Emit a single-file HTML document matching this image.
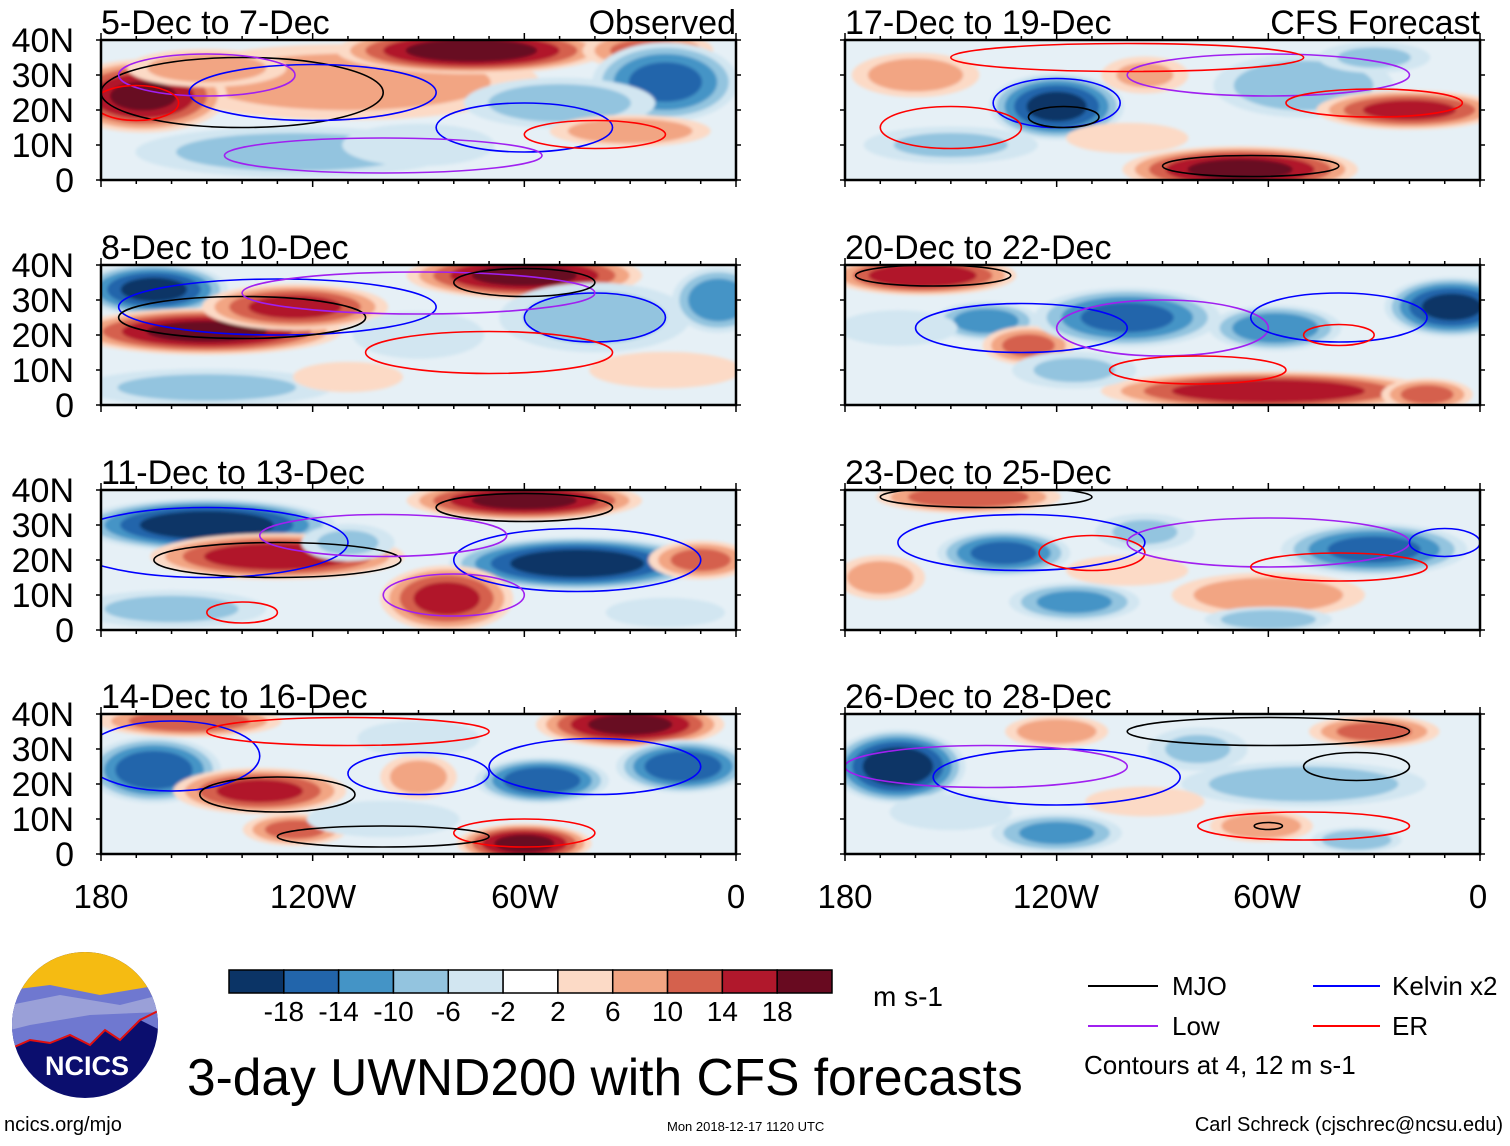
<!DOCTYPE html>
<html><head><meta charset="utf-8">
<style>
html,body{margin:0;padding:0;background:#fff;}
body{width:1510px;height:1141px;overflow:hidden;font-family:"Liberation Sans",sans-serif;}
svg text{font-family:"Liberation Sans",sans-serif;}
</style></head><body>
<svg id="chart" width="1510" height="1141" xmlns="http://www.w3.org/2000/svg">
<defs><filter id="soft" x="-20%" y="-20%" width="140%" height="140%"><feGaussianBlur stdDeviation="1.5"/></filter></defs>
<g id="panels"></g>
<g font-size="33" text-anchor="middle">
<text x="101" y="908">180</text><text x="313" y="908">120W</text><text x="525" y="908">60W</text><text x="736" y="908">0</text></g>
<g font-size="33" text-anchor="middle">
<text x="845" y="908">180</text><text x="1056" y="908">120W</text><text x="1267" y="908">60W</text><text x="1478" y="908">0</text></g>
<g id="colorbar"></g>
<text x="873" y="1006" font-size="28">m s-1</text>
<g font-size="26">
<line x1="1088" y1="986" x2="1158" y2="986" stroke="#000" stroke-width="2"/><text x="1172" y="995">MJO</text>
<line x1="1313" y1="986" x2="1380" y2="986" stroke="#0000ff" stroke-width="2"/><text x="1392" y="995">Kelvin x2</text>
<line x1="1088" y1="1026" x2="1158" y2="1026" stroke="#a020f0" stroke-width="2"/><text x="1172" y="1035">Low</text>
<line x1="1313" y1="1026" x2="1380" y2="1026" stroke="#ff0000" stroke-width="2"/><text x="1392" y="1035">ER</text>
<text x="1084" y="1074" font-size="26">Contours at 4, 12 m s-1</text>
</g>
<g>
<clipPath id="lc"><circle cx="85" cy="1025" r="73"/></clipPath>
<g clip-path="url(#lc)">
<rect x="10" y="950" width="150" height="150" fill="#0b0e6e"/>
<rect x="10" y="950" width="150" height="45" fill="#f5bb12"/>
<path d="M10 990 L50 985 L100 995 L160 985 L160 1030 L140 1020 L120 1040 L105 1030 L90 1045 L70 1035 L50 1043 L30 1040 L10 1048Z" fill="#6f78d0"/>
<path d="M10 1005 L60 995 L120 1005 L160 995 L160 1012 L90 1015 L30 1025 L10 1030Z" fill="#9aa0d8"/>
<path d="M12 1048 L30 1040 L50 1043 L70 1035 L90 1045 L105 1030 L120 1040 L140 1020 L160 1010" fill="none" stroke="#e01010" stroke-width="2"/>
</g>
<text x="87" y="1075" font-size="27" font-weight="bold" fill="#fff" text-anchor="middle">NCICS</text>
</g>
<text x="187" y="1095" font-size="51.5">3-day UWND200 with CFS forecasts</text>
<text x="4" y="1131" font-size="20">ncics.org/mjo</text>
<text x="667" y="1131" font-size="13">Mon 2018-12-17 1120 UTC</text>
<text x="1503" y="1131" font-size="20" text-anchor="end">Carl Schreck (cjschrec@ncsu.edu)</text>
</svg>
<script>
const levels = [-18,-14,-10,-6,-2,2,6,10,14,18];
const colors = ["#0b3466","#2265ab","#4494c6","#93c4df","#d2e6f1","#ffffff","#fcdac6","#f2a583","#d5614d","#b1182c","#680a20"];
const titles = ["5-Dec to 7-Dec","8-Dec to 10-Dec","11-Dec to 13-Dec","14-Dec to 16-Dec","17-Dec to 19-Dec","20-Dec to 22-Dec","23-Dec to 25-Dec","26-Dec to 28-Dec"];
const yTicks = [40,30,20,10,0];
const yTickLabels = ["40N","30N","20N","10N","0"];
// wind anomaly blobs per panel: [lonW, lat, rxDeg, ryDeg, value]
const blobs0 = [[110,28,60,12,9],[168,24,25,11,19],[75,37,40,7,21],[25,37,20,6,12],[20,28,22,12,-16],[125,8,50,8,-9],[50,22,30,8,-9],[30,14,25,5,10],[150,32,25,6,9],[90,10,25,7,-6]];
const blobs1 = [[165,33,22,8,-20],[150,21,40,7,20],[125,28,28,7,16],[60,37,35,7,20],[40,25,30,11,-9],[5,30,14,10,-14],[150,5,40,6,-8],[110,8,18,5,6],[90,20,22,8,-5],[20,10,25,6,6]];
const blobs2 = [[150,30,38,8,-22],[130,21,38,7,18],[60,37,35,6,20],[45,19,38,8,-22],[82,9,20,10,16],[160,6,30,6,-8],[10,20,16,6,12],[110,25,15,6,-7],[20,5,20,5,-5]];
const blobs3 = [[155,38,28,5,14],[165,24,20,10,-18],[135,18,26,7,16],[125,7,16,5,12],[30,37,28,7,20],[55,21,20,7,-18],[15,25,20,8,-18],[60,3,20,6,20],[90,22,12,7,9],[100,10,25,6,-6],[90,33,20,6,-6]];
const blobs4 = [[120,21,20,10,-20],[160,30,20,7,9],[50,27,28,10,-10],[20,20,28,6,16],[68,3,35,7,20],[95,30,14,6,7],[150,10,28,6,-7],[30,35,18,5,-7],[100,12,20,5,6]];
const blobs5 = [[158,37,28,6,18],[140,24,16,6,-13],[128,17,14,6,12],[100,25,28,9,-16],[58,22,20,7,-14],[8,28,20,9,-20],[60,4,50,6,18],[15,3,14,5,12],[115,10,20,6,-7],[165,22,20,6,-5]];
const blobs6 = [[145,38,28,5,14],[135,22,20,7,-16],[115,8,20,6,-12],[30,23,28,8,-16],[60,10,30,7,10],[60,3,20,4,-9],[95,28,16,6,-7],[170,15,14,7,9],[100,17,20,5,6]];
const blobs7 = [[165,25,20,11,-22],[120,35,16,5,10],[30,35,20,5,12],[50,20,38,7,-10],[120,6,20,6,-12],[62,8,16,5,10],[35,4,14,4,-10],[80,30,16,7,-7],[150,12,20,6,-6],[95,15,20,5,5]];
const blobs = [blobs0,blobs1,blobs2,blobs3,blobs4,blobs5,blobs6,blobs7];
// contours per panel: [lonW, lat, rxDeg, ryDeg, type]
const conts = [
 [[140,25,40,10,"k"],[120,25,35,8,"b"],[60,15,25,7,"b"],[40,13,20,4,"r"],[150,30,25,6,"p"],[100,7,45,5,"p"],[170,22,12,5,"r"]],
 [[130,28,45,8,"b"],[140,25,35,6,"k"],[40,25,20,7,"b"],[70,15,35,6,"r"],[90,32,50,6,"p"],[60,35,20,4,"k"]],
 [[150,25,40,10,"b"],[130,20,35,5,"k"],[45,20,35,9,"b"],[100,27,35,6,"p"],[60,35,25,4,"k"],[80,10,20,6,"p"],[140,5,10,3,"r"]],
 [[160,28,25,10,"b"],[130,17,22,5,"k"],[40,25,30,8,"b"],[90,23,20,6,"b"],[60,6,20,4,"r"],[100,5,30,3,"k"],[110,35,40,4,"r"]],
 [[120,22,18,7,"b"],[118,18,10,3,"k"],[60,30,40,6,"p"],[30,22,25,4,"r"],[150,15,20,6,"r"],[65,4,25,3,"k"],[100,35,50,4,"r"]],
 [[130,22,30,7,"b"],[90,22,30,8,"p"],[40,25,25,7,"b"],[80,10,25,4,"r"],[40,20,10,3,"r"],[155,37,22,3,"k"]],
 [[130,25,35,8,"b"],[110,22,15,5,"r"],[60,25,40,7,"p"],[140,38,30,3,"k"],[40,18,25,4,"r"],[10,25,10,4,"b"]],
 [[120,22,35,8,"b"],[140,25,40,6,"p"],[35,25,15,4,"k"],[50,8,30,4,"r"],[60,35,40,4,"k"],[60,8,4,1,"k"]]
];
const lineCols = {k:"#000000",b:"#0000ff",r:"#ff0000",p:"#a020f0"};
const NS="http://www.w3.org/2000/svg";
const geom = {lefts:[101,845], w:635, tops:[40,265,490,714], h:140};
function colorFor(v){let i=0;while(i<levels.length&&v>levels[i])i++;return colors[i];}
function mk(tag,attrs,parent){const e=document.createElementNS(NS,tag);for(const k in attrs)e.setAttribute(k,attrs[k]);parent.appendChild(e);return e;}
const root=document.getElementById('panels');
titles.forEach((t,p)=>{
  const col=p<4?0:1, row=p%4;
  const x0=geom.lefts[col], y0=geom.tops[row], w=geom.w, h=geom.h;
  const xs=lon=>x0+(180-lon)/180*w;
  const ys=lat=>y0+h-lat/40*h;
  const g=mk('g',{},root);
  
  
  const cid='clip'+p;
  const cp=mk('clipPath',{id:cid},g);mk('rect',{x:x0,y:y0,width:w,height:h},cp);
  const inner=mk('g',{'clip-path':'url(#'+cid+')'},g);
  mk('rect',{x:x0,y:y0,width:w,height:h,fill:'#e6f0f6'},inner);
  const fg=mk('g',{filter:'url(#soft)'},inner);
  blobs[p].forEach(b=>{
    const [lon,lat,rx,ry,v]=b;const av=Math.abs(v),s=Math.sign(v);
    const th=[2,6,10,14,18].filter(t=>t<av);
    th.forEach(t=>{
      const f=Math.sqrt(1-t/(av+2));
      const e=mk('ellipse',{cx:xs(lon),cy:ys(lat),rx:rx/180*w*f,ry:ry/40*h*f,fill:colorFor(s*(t+1))},fg);
      
      
    });
  });
  conts[p].forEach(c=>{
    const [lon,lat,rx,ry,ty]=c;
    const e=mk('ellipse',{cx:xs(lon),cy:ys(lat),rx:rx/180*w,ry:ry/40*h,fill:'none',stroke:lineCols[ty],'stroke-width':1.6},inner);
    
    
  });
  const fr=mk('rect',{x:x0,y:y0,width:w,height:h,fill:'none',stroke:'#000','stroke-width':2.5},g);
  
  
  for(let lon=180;lon>=0;lon-=10){const len=(lon%60===0)?7:4;
    mk('line',{x1:xs(lon),y1:y0,x2:xs(lon),y2:y0-len,stroke:'#000','stroke-width':1.5},g);
    mk('line',{x1:xs(lon),y1:y0+h,x2:xs(lon),y2:y0+h+len,stroke:'#000','stroke-width':1.5},g);}
  for(let lat=0;lat<=40;lat+=10){
    mk('line',{x1:x0,y1:ys(lat),x2:x0-5,y2:ys(lat),stroke:'#000','stroke-width':1.5},g);
    mk('line',{x1:x0+w,y1:ys(lat),x2:x0+w+5,y2:ys(lat),stroke:'#000','stroke-width':1.5},g);}
  const tt=mk('text',{x:x0,y:y0-6,'font-size':34},g);tt.textContent=t;
  
  
  if(p===0||p===4){const lb=mk('text',{x:x0+w,y:y0-6,'font-size':34,'text-anchor':'end'},g);lb.textContent=p===0?'Observed':'CFS Forecast';
    
    }
  if(col===0){yTicks.forEach((lt,i)=>{const yl=mk('text',{x:74,y:ys(lt)+12,'font-size':34,'text-anchor':'end'},g);yl.textContent=yTickLabels[i];
    
    });}
});
const cb=document.getElementById('colorbar');
const cbx=229, cbw=603/colors.length;
colors.forEach((c,i)=>{const r=mk('rect',{x:cbx+i*cbw,y:970,width:cbw,height:23,fill:c,stroke:'#000','stroke-width':1.5},cb);
  
  });
levels.forEach((l,i)=>{const t=mk('text',{x:cbx+(i+1)*cbw,y:1021,'font-size':28,'text-anchor':'middle'},cb);t.textContent=l;
  
  });
</script>
</body></html>
